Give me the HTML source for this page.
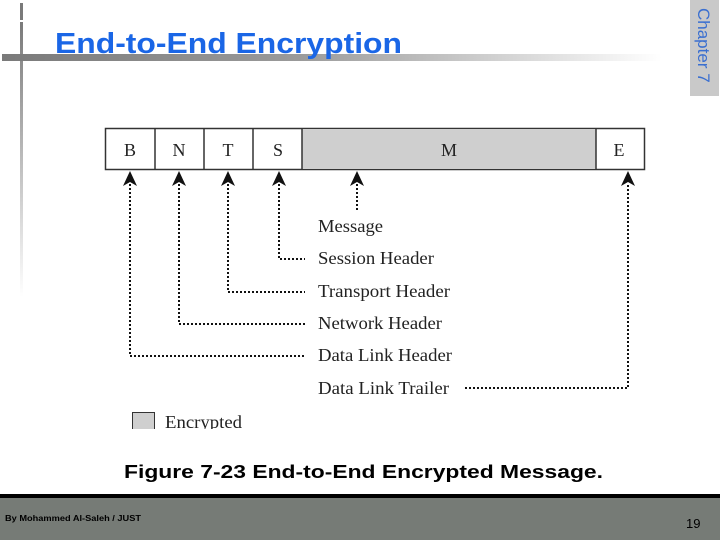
<!DOCTYPE html>
<html><head><meta charset="utf-8"><style>
html,body{margin:0;padding:0;width:720px;height:540px;overflow:hidden;background:#fff}
svg{display:block}
</style></head><body>
<svg width="720" height="540" viewBox="0 0 720 540" xmlns="http://www.w3.org/2000/svg">
<defs>
<linearGradient id="hg" x1="0" x2="1" y1="0" y2="0">
<stop offset="0" stop-color="#7a7a7a"/><stop offset="0.45" stop-color="#9a9a9a"/><stop offset="1" stop-color="#ffffff"/>
</linearGradient>
<linearGradient id="vg" x1="0" x2="0" y1="0" y2="1">
<stop offset="0" stop-color="#7a7a7a"/><stop offset="1" stop-color="#ffffff"/>
</linearGradient>
</defs>
<rect x="20" y="3" width="3" height="17" fill="#7a7a7a"/>
<rect x="20" y="22" width="3" height="275" fill="url(#vg)"/>
<rect x="2" y="54" width="660" height="7" fill="url(#hg)"/>
<text x="55" y="53" font-family="Liberation Sans, sans-serif" font-weight="bold" font-size="29" fill="#1a66e6" textLength="347" lengthAdjust="spacingAndGlyphs">End-to-End Encryption</text>
<rect x="690" y="0" width="29" height="96" fill="#c9c9c9"/>
<text transform="translate(698,8) rotate(90)" font-family="Liberation Sans, sans-serif" font-size="17" fill="#3a6fd0">Chapter 7</text>

<g font-family="Liberation Serif, serif" font-size="18" fill="#222">
<rect x="105.5" y="128.5" width="539" height="41" fill="#fff" stroke="#333" stroke-width="1.5"/>
<rect x="302" y="129" width="294" height="40" fill="#cfcfcf"/>
<g stroke="#333" stroke-width="1.5">
<line x1="155" y1="128" x2="155" y2="170"/><line x1="204" y1="128" x2="204" y2="170"/>
<line x1="253" y1="128" x2="253" y2="170"/><line x1="302" y1="128" x2="302" y2="170"/>
<line x1="596" y1="128" x2="596" y2="170"/>
</g>
<g text-anchor="middle" font-size="18">
<text x="130" y="156">B</text><text x="179" y="156">N</text><text x="228" y="156">T</text>
<text x="278" y="156">S</text><text x="449" y="156">M</text><text x="619" y="156">E</text>
</g>
<g fill="none" stroke="#111" stroke-width="2" stroke-dasharray="2,2">
<polyline points="130,184 130,356 305,356"/>
<polyline points="179,184 179,324 305,324"/>
<polyline points="228,184 228,292 305,292"/>
<polyline points="279,184 279,259 305,259"/>
<polyline points="357,184 357,210"/>
<polyline points="465,388 628,388 628,184"/>
</g>
<g fill="#111">
<path d="M130,171 L137,186 L130,182 L123,186Z"/>
<path d="M179,171 L186,186 L179,182 L172,186Z"/>
<path d="M228,171 L235,186 L228,182 L221,186Z"/>
<path d="M279,171 L286,186 L279,182 L272,186Z"/>
<path d="M357,171 L364,186 L357,182 L350,186Z"/>
<path d="M628,171 L635,186 L628,182 L621,186Z"/>
</g>
<text x="318" y="232" textLength="65" lengthAdjust="spacingAndGlyphs">Message</text>
<text x="318" y="264" textLength="116" lengthAdjust="spacingAndGlyphs">Session Header</text>
<text x="318" y="297" textLength="132" lengthAdjust="spacingAndGlyphs">Transport Header</text>
<text x="318" y="329" textLength="124" lengthAdjust="spacingAndGlyphs">Network Header</text>
<text x="318" y="361" textLength="134" lengthAdjust="spacingAndGlyphs">Data Link Header</text>
<text x="318" y="394" textLength="131" lengthAdjust="spacingAndGlyphs">Data Link Trailer</text>
<svg x="0" y="0" width="720" height="429">
<rect x="132.5" y="412.5" width="22" height="22" fill="#cfcfcf" stroke="#333"/>
<text x="165" y="428" font-size="18" textLength="77" lengthAdjust="spacingAndGlyphs">Encrypted</text>
</svg>
</g>
<text x="124" y="478" font-family="Liberation Sans, sans-serif" font-weight="bold" font-size="18" fill="#000" textLength="479" lengthAdjust="spacingAndGlyphs">Figure 7-23  End-to-End Encrypted Message.</text>
<rect x="0" y="494" width="720" height="4" fill="#000"/>
<rect x="0" y="498" width="720" height="42" fill="#767b76"/>
<text x="5" y="521" font-family="Liberation Sans, sans-serif" font-weight="bold" font-size="8" fill="#000" textLength="136" lengthAdjust="spacingAndGlyphs">By Mohammed Al-Saleh / JUST</text>
<text x="686" y="528" font-family="Liberation Sans, sans-serif" font-size="13" fill="#000">19</text>
</svg>
</body></html>
